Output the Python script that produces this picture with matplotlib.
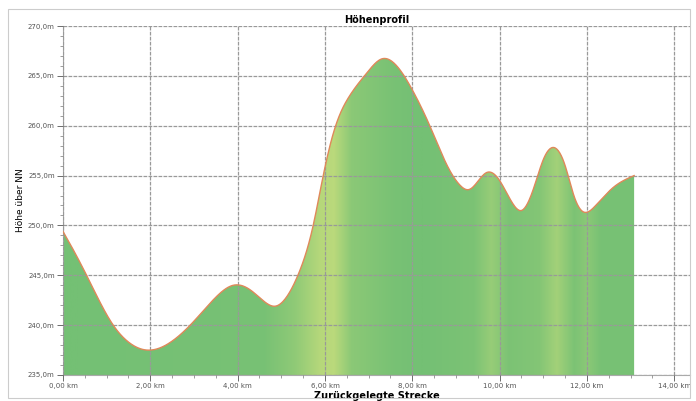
import matplotlib.pyplot as plt
import numpy as np
from matplotlib.ticker import MultipleLocator, FuncFormatter
from matplotlib.colors import LinearSegmentedColormap

# Strecke (km) und Höhe (m)
strecke = [0.0, 0.23, 0.54, 1.15, 1.5, 1.92, 2.5, 3.0, 3.5, 3.9, 4.3,
           4.6, 4.86, 5.1, 5.38, 5.73, 5.96, 6.23, 6.55, 6.96, 7.3, 7.6,
           8.0, 8.4, 8.8, 9.1, 9.3, 9.7, 10.0, 10.3, 10.5, 10.8, 11.0,
           11.2, 11.5, 11.7, 11.9, 12.2, 12.6, 13.08]
hoehe = [249.4, 247.6, 245.0, 240.0, 238.3, 237.5, 238.4, 240.4, 242.8,
         244.0, 243.5, 242.4, 241.9, 242.7, 245.0, 250.0, 255.0, 259.8,
         262.9, 265.3, 266.7, 266.2, 263.6, 260.0, 256.0, 254.0, 253.6,
         255.3, 254.5, 252.2, 251.5, 254.0, 256.6, 257.8, 256.0, 253.0,
         251.4, 252.0, 253.8, 255.0]

# Helligkeit der Füllung entlang der Strecke (0 = grün, 1 = gelbgrün)
band_km = [0.0, 4.6, 5.3, 5.9, 6.2, 6.6, 7.6, 8.2, 9.4, 9.8, 10.2, 10.9,
           11.3, 11.7, 12.0, 12.3, 13.1]
band_val = [0.0, 0.05, 0.35, 0.85, 0.9, 0.3, 0.05, 0.0, 0.1, 0.45, 0.1,
            0.2, 0.6, 0.1, 0.3, 0.05, 0.05]

ytick_fmt = lambda v, p: ("%.1f" % v).replace(".", ",") + "m"
xtick_fmt = lambda v, p: ("%.2f" % v).replace(".", ",") + " km"


def spline(x, y, xn):
    # natürlicher kubischer Spline
    x = np.asarray(x, float); y = np.asarray(y, float)
    n = len(x)
    h = np.diff(x)
    A = np.zeros((n, n)); b = np.zeros(n)
    A[0, 0] = A[-1, -1] = 1
    for i in range(1, n - 1):
        A[i, i-1] = h[i-1]
        A[i, i] = 2 * (h[i-1] + h[i])
        A[i, i+1] = h[i]
        b[i] = 6 * ((y[i+1] - y[i]) / h[i] - (y[i] - y[i-1]) / h[i-1])
    M = np.linalg.solve(A, b)
    i = np.clip(np.searchsorted(x, xn) - 1, 0, n - 2)
    t1 = x[i+1] - xn; t0 = xn - x[i]; hi = h[i]
    return (M[i] * t1**3 / (6*hi) + M[i+1] * t0**3 / (6*hi)
            + (y[i] / hi - M[i] * hi / 6) * t1
            + (y[i+1] / hi - M[i+1] * hi / 6) * t0)


fig = plt.figure(figsize=(6.96, 4.01), dpi=100)
ax = fig.add_axes([63/696, 1 - 375/401, 627/696, 349/401])

xs = np.linspace(strecke[0], strecke[-1], 800)
ys = spline(strecke, hoehe, xs)

cmap = LinearSegmentedColormap.from_list("g", ["#74c074", "#c2dc7c"])
vals = np.interp(xs, band_km, band_val)
img = ax.imshow(vals[np.newaxis, :], cmap=cmap, vmin=0, vmax=1, aspect="auto",
                extent=[xs[0], xs[-1], 235, 270], origin="lower", zorder=1)
clip = plt.Polygon(np.column_stack([np.r_[xs, xs[-1], xs[0]],
                                    np.r_[ys, 235, 235]]),
                   closed=True, transform=ax.transData)
img.set_clip_path(clip)
ax.plot(xs, ys, color="#e0885a", lw=1.0, zorder=3)

ax.set_xlim(0, 14.36)
ax.set_ylim(235, 270)
ax.xaxis.set_major_locator(MultipleLocator(2))
ax.xaxis.set_minor_locator(MultipleLocator(0.5))
ax.yaxis.set_major_locator(MultipleLocator(5))
ax.yaxis.set_minor_locator(MultipleLocator(1))
ax.xaxis.set_major_formatter(FuncFormatter(xtick_fmt))
ax.yaxis.set_major_formatter(FuncFormatter(ytick_fmt))
ax.tick_params(labelsize=5, colors="#555555", length=4, width=0.6, pad=2)
ax.tick_params(which="minor", length=2, width=0.5, colors="#777777")
ax.grid(True, which="major", color="#999999", lw=0.9, ls=(0, (3, 1)), zorder=2)
ax.set_axisbelow(False)
for s in ["top", "right"]:
    ax.spines[s].set_visible(False)
for s in ["left", "bottom"]:
    ax.spines[s].set_color("#aaaaaa")
    ax.spines[s].set_linewidth(0.8)

ax.set_title("Höhenprofil", fontsize=7, fontweight="bold", pad=2)
ax.set_xlabel("Zurückgelegte Strecke", fontsize=7, fontweight="bold", labelpad=1)
ax.set_ylabel("Höhe über NN", fontsize=6.5, labelpad=2)

fig.patches.append(plt.Rectangle((8/696, 1 - 398/401), 682/696, 389/401,
                                 transform=fig.transFigure, fill=False,
                                 edgecolor="#cccccc", lw=0.8))
fig.savefig("out.png", dpi=100)
